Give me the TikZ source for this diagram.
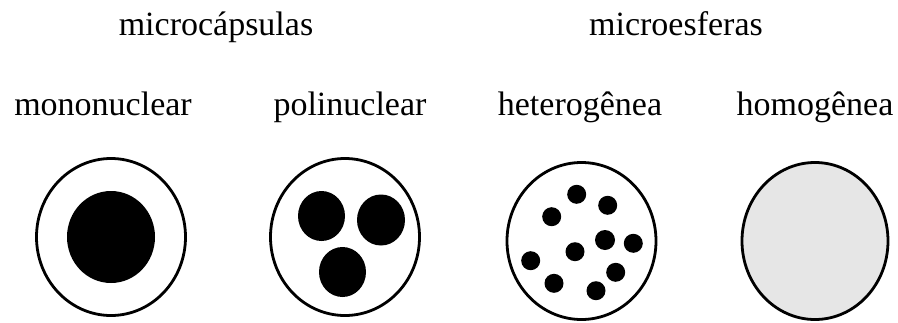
\documentclass[tikz,border=0pt]{standalone}
\usepackage{fontspec}
\setmainfont{Liberation Serif}
\usepackage{xcolor}
\usetikzlibrary{shapes.geometric}

\definecolor{cinza}{HTML}{E6E6E6}

\begin{document}
\begin{tikzpicture}[x=1pt, y=-1pt,
    titulo/.style={anchor=base, inner sep=0pt, font=\fontsize{34}{40}\selectfont},
    casca/.style={ellipse, draw, line width=2.8pt, inner sep=0pt, minimum width=149pt, minimum height=157pt},
    nucleo/.style={ellipse, fill=black, inner sep=0pt},
    ponto/.style={circle, fill=black, inner sep=0pt, minimum size=19pt},
]
    \useasboundingbox (0,0) rectangle (898,322);
    % titulos
    \node[titulo] (capsulas) at (216,35) {microcápsulas};
    \node[titulo] (esferas) at (676,35) {microesferas};
    \node[titulo] (tmono) at (103,115) {mononuclear};
    \node[titulo] (tpoli) at (350,115) {polinuclear};
    \node[titulo] (thet) at (580,115) {heterogênea};
    \node[titulo] (thom) at (815,115) {homogênea};
    % microcapsulas
    \node[casca] (mono) at (111,237) {};
    \node[nucleo, minimum width=88pt, minimum height=92pt] (n0) at (mono.center) {};
    \node[casca] (poli) at (345,237) {};
    \node[nucleo, minimum width=47pt, minimum height=50pt] (n1) at (321.5,216) {};
    \node[nucleo, minimum width=48pt, minimum height=51pt] (n2) at (381,220) {};
    \node[nucleo, minimum width=47pt, minimum height=50pt] (n3) at (342.5,272) {};
    % microesferas
    \node[casca] (het) at (581.5,241) {};
    \node[ponto] (p1) at (576.7,194.3) {};
    \node[ponto] (p2) at (607.7,205.3) {};
    \node[ponto] (p3) at (551.7,216.7) {};
    \node[ponto, minimum size=20pt] (p4) at (605,240) {};
    \node[ponto] (p5) at (633.3,243.3) {};
    \node[ponto] (p6) at (575,251.7) {};
    \node[ponto] (p7) at (530.7,260.7) {};
    \node[ponto] (p8) at (615.7,272.3) {};
    \node[ponto] (p9) at (554,283.3) {};
    \node[ponto] (p10) at (596,290.7) {};
    \node[casca, fill=cinza, minimum width=146pt] (hom) at (815,241) {};
\end{tikzpicture}
\end{document}
